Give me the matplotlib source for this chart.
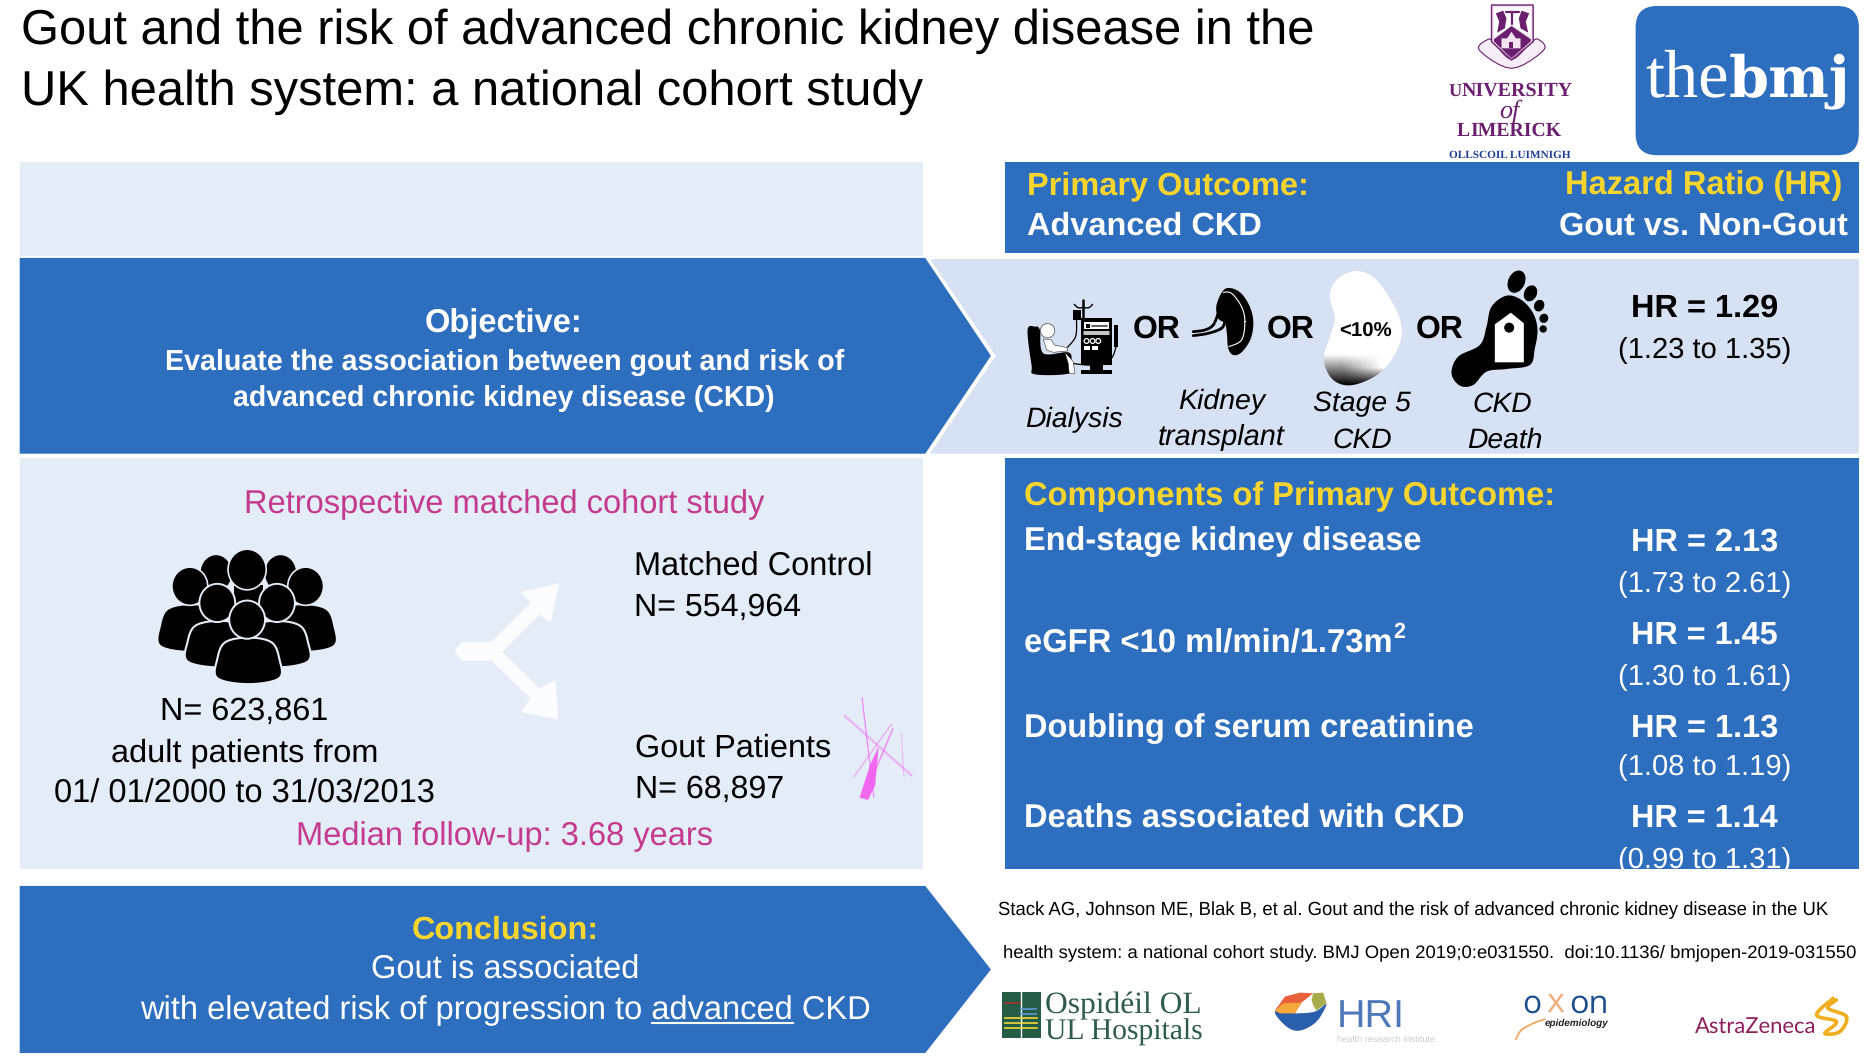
import numpy as np
import matplotlib
matplotlib.use("Agg")
import matplotlib.pyplot as plt
from matplotlib.patches import Polygon, Ellipse, PathPatch, FancyBboxPatch, Circle
from matplotlib.path import Path
from matplotlib.textpath import TextPath
from matplotlib.font_manager import FontProperties

plt.rcParams["text.hinting"] = "no_hinting"

# ---------------- content ----------------
title_lines = ["Gout and the risk of advanced chronic kidney disease in the",
               "UK health system: a national cohort study"]
hr_primary = (1.29, 1.23, 1.35)
components = ["End-stage kidney disease", "eGFR <10 ml/min/1.73m", "Doubling of serum creatinine",
              "Deaths associated with CKD"]
hr_values = [2.13, 1.45, 1.13, 1.14]
ci_low = [1.73, 1.30, 1.08, 0.99]
ci_high = [2.61, 1.61, 1.19, 1.31]
n_total = "623,861"
n_control = "554,964"
n_gout = "68,897"
median_followup = 3.68
citation = ["Stack AG, Johnson ME, Blak B, et al. Gout and the risk of advanced chronic kidney disease in the UK",
            "health system: a national cohort study. BMJ Open 2019;0:e031550.  doi:10.1136/ bmjopen-2019-031550"]

BLUE = "#2D6EBE"
LIGHT1 = "#E4ECF7"
LIGHT2 = "#D6E1F3"
YELLOW = "#F7D52E"
PINK = "#C43A8E"
SANS = "Liberation Sans"
SERIF = "Liberation Serif"

W, H = 1568, 885.3
K = 1.194
fig = plt.figure(figsize=(18.72, 10.57), dpi=100, facecolor="white")
ax = fig.add_axes([0, 0, 1, 1])
ax.axis("off")
renderer = fig.canvas.get_renderer()


def fit(s, x0, x1, yc=None, color="black", family=SANS, weight="normal", style="normal", zorder=5, base=None):
    fp = FontProperties(family=family, weight=weight, style=style)
    bb = TextPath((0, 0), s, size=10, prop=fp).get_extents()
    size = (x1 - x0) * K * 0.72 / (bb.width / 10)
    if base is None:
        base = yc + 0.36 * size / (K * 0.72)
    t = ax.text(x0, base, s, fontproperties=fp, fontsize=size, color=color,
                va="baseline", ha="left", zorder=zorder, clip_on=False)
    # correct for the width the renderer actually gives
    w = t.get_window_extent(renderer).width
    if w > 0:
        t.set_fontsize(size * (x1 - x0) * K / w)
    return t


def poly(pts, color, z=2, **kw):
    ax.add_patch(Polygon(pts, closed=True, facecolor=color, edgecolor=kw.pop("ec", "none"), zorder=z, **kw))


def smooth(pts, n=14):
    p = np.array(pts, float)
    m = len(p)
    out = []
    for i in range(m):
        p0, p1, p2, p3 = p[(i - 1) % m], p[i], p[(i + 1) % m], p[(i + 2) % m]
        for t in np.linspace(0, 1, n, endpoint=False):
            out.append(0.5 * (2 * p1 + (p2 - p0) * t + (2 * p0 - 5 * p1 + 4 * p2 - p3) * t ** 2
                              + (3 * p1 - p0 - 3 * p2 + p3) * t ** 3))
    return np.array(out)


def crop(x0, y0):
    """Map sketch coordinates of an icon (drawn at 3x) onto the canvas."""
    def f(pts):
        p = np.atleast_2d(np.array(pts, float))
        return np.column_stack([(x0 + p[:, 0] / 3) / K, (y0 + p[:, 1] / 3) / K])
    return f


def curve(pts, color, lw, z=3, n=10):
    p = np.array(pts, float)
    out = []
    for i in range(len(p) - 1):
        p0 = p[max(i - 1, 0)]; p1 = p[i]; p2 = p[i + 1]; p3 = p[min(i + 2, len(p) - 1)]
        for t in np.linspace(0, 1, n):
            out.append(0.5 * (2 * p1 + (p2 - p0) * t + (2 * p0 - 5 * p1 + 4 * p2 - p3) * t ** 2
                              + (3 * p1 - p0 - 3 * p2 + p3) * t ** 3))
    out = np.array(out)
    ax.plot(out[:, 0], out[:, 1], color=color, lw=lw, zorder=z, solid_capstyle="round", solid_joinstyle="round")


def ell(x, y, rx, ry, color="black", z=3, ec="none", lw=0, angle=0):
    ax.add_patch(Ellipse((x, y), 2 * rx, 2 * ry, angle=angle, facecolor=color, edgecolor=ec, lw=lw, zorder=z))


ax.set_xlim(0, W)
ax.set_ylim(H, 0)

# ---------------- panels ----------------
poly([(16.5, 136), (773, 136), (773, 214), (16.5, 214)], LIGHT1, 1)
poly([(842, 136), (1557, 136), (1557, 212), (842, 212)], BLUE, 1)
poly([(16.5, 216), (775, 216), (830, 298), (775, 380), (16.5, 380)], BLUE, 1)
poly([(779, 217), (1557, 217), (1557, 380), (779, 380), (834, 298)], LIGHT2, 1)
poly([(16.5, 384), (773, 384), (773, 728), (16.5, 728)], LIGHT1, 1)
poly([(842, 384), (1557, 384), (1557, 728), (842, 728)], BLUE, 1)
poly([(16.5, 742), (775, 742), (830, 812), (775, 882), (16.5, 882)], BLUE, 1)

# ---------------- title ----------------
fit(title_lines[0], 18, 1102, 22)
fit(title_lines[1], 18, 774, 73)

# ---------------- header ----------------
fit("Primary Outcome:", 860, 1096, 153, YELLOW, weight="bold")
fit("Advanced CKD", 860, 1056, 187, "white", weight="bold")
fit("Hazard Ratio (HR)", 1311, 1543, 153, YELLOW, weight="bold")
fit("Gout vs. Non-Gout", 1306, 1548, 187, "white", weight="bold")

# ---------------- objective ----------------
fit("Objective:", 356, 488, 268, "white", weight="bold")
fit("Evaluate the association between gout and risk of", 138, 707, 301, "white", weight="bold")
fit("advanced chronic kidney disease (CKD)", 195, 650, 331, "white", weight="bold")

# ---------------- primary outcome row ----------------
for x0 in (949, 1061, 1186):
    fit("OR", x0, x0 + 40, 273, weight="bold")
for s, a, b, y in [("Dialysis", 859, 941, 349), ("Kidney", 987, 1060, 334), ("transplant", 970, 1076, 364),
                   ("Stage 5", 1100, 1182, 336), ("CKD", 1116, 1166, 366), ("CKD", 1233, 1283, 336),
                   ("Death", 1229, 1292, 366)]:
    fit(s, a, b, y, style="italic")
fit(f"HR = {hr_primary[0]:.2f}", 1366, 1489, 255, weight="bold")
fit(f"({hr_primary[1]:.2f} to {hr_primary[2]:.2f})", 1355, 1500, 291)

# dialysis icon
c = crop(1015, 265)
poly(smooth(c([(38, 195), (60, 185), (75, 195), (85, 265), (160, 262), (170, 290), (165, 325), (60, 328), (50, 300)]), 8), "black")
ell(*c([(98, 197)])[0], 6.5 / K * 1.1, 6.5 / K * 1.1, "white", 5, "#444444", 0.5)
poly(c([(85, 222), (110, 225), (118, 240), (158, 248), (158, 258), (115, 262), (95, 255)]), "white", 4, ec="#333333", lw=0.4)
poly(c([(150, 262), (175, 290), (180, 325), (163, 325), (160, 295)]), "white", 4, ec="#333333", lw=0.4)
poly(c([(198, 160), (290, 160), (290, 300), (198, 300)]), "black")
poly(c([(208, 172), (282, 172), (282, 192), (208, 192)]), "white", 4)
poly(c([(212, 176), (224, 176), (224, 188), (212, 188)]), "black", 5)
curve(c([(232, 182), (275, 182)]), "#444444", 1.2, 5)
for yy in (200, 208):
    curve(c([(207, yy), (282, yy)]), "white", 1.1, 4)
for xx in (215, 233, 250):
    xy = c([(xx, 228)])[0]
    ax.add_patch(Circle(xy, 2, fc="none", ec="white", lw=0.9, zorder=4))
poly(c([(207, 243), (226, 243), (226, 256), (207, 256)]), "white", 4)
poly(c([(232, 243), (249, 243), (249, 256), (232, 256)]), "white", 4)
poly(c([(225, 300), (265, 300), (265, 316), (225, 316)]), "black")
poly(c([(197, 316), (290, 316), (290, 328), (197, 328)]), "black")
curve(c([(205, 105), (205, 160)]), "black", 1.8)
curve(c([(178, 118), (190, 128), (205, 128), (222, 128), (233, 118)]), "black", 1)
poly(c([(175, 135), (198, 135), (198, 165), (175, 165)]), "black")
curve(c([(185, 165), (182, 215), (155, 250)]), "black", 0.9)
poly(c([(297, 180), (310, 180), (310, 245), (297, 245)]), "black")
curve(c([(304, 245), (285, 285), (230, 300), (170, 295)]), "black", 0.9)

# kidney icon
poly(smooth(c([(630, 72), (670, 78), (700, 115), (715, 165), (708, 220), (680, 262), (655, 270), (640, 250),
               (636, 205), (630, 175), (610, 160), (605, 120)])), "black")
curve(c([(625, 82), (650, 85), (680, 125), (690, 170), (680, 225), (642, 245)]), "white", 0.8, 4)
curve(c([(610, 145), (595, 180), (570, 195), (535, 200)]), "black", 2.0)
curve(c([(535, 212), (580, 205), (620, 190), (630, 170)]), "black", 2.0)

# stage 5 kidney with gradient
c = crop(1310, 265)
blob = smooth(c([(140, 18), (195, 40), (240, 100), (272, 170), (268, 240), (215, 320), (130, 360), (70, 345),
                 (42, 285), (60, 215), (75, 160), (60, 90), (85, 40)]))
ys = c([(0, z) for z in np.linspace(0, 370, 120)])[:, 1]
ya = c([(0, 270)])[0, 1]; yb = c([(0, 310)])[0, 1]; yend = c([(0, 355)])[0, 1]
grad = np.column_stack([np.clip(1 - (ys - ya) / (yend - ya + 2), 0, 1), np.clip(1 - (ys - yb) / (yend - yb + 2), 0, 1)])
tl = c([(40, 0)])[0]; br = c([(275, 370)])[0]
im = ax.imshow(grad, cmap="gray", vmin=0, vmax=1, extent=(tl[0], br[0], br[1], tl[1]), aspect="auto", zorder=3,
               interpolation="bilinear")
im.set_clip_path(PathPatch(Path(np.vstack([blob, blob[0]])), transform=ax.transData))
fit("<10%", 1122, 1166, 276, weight="bold")

# foot icon
poly(smooth(c([(590, 92), (635, 105), (670, 145), (683, 195), (675, 250), (660, 300), (590, 312), (530, 320), (490, 360),
               (450, 362), (425, 325), (445, 275), (510, 240), (530, 185), (545, 125)])), "black")
for z, rx, ry, a in [((620, 50), 25, 35, 25), ((662, 85), 19, 25, 25), ((688, 122), 15, 18, 25),
                     ((702, 160), 13, 14, 30), ((700, 192), 11, 11, 0)]:
    xy = c([z])[0]
    ell(xy[0], xy[1], rx / 3 / K, ry / 3 / K, angle=a)
poly(c([(603, 143), (642, 175), (642, 292), (555, 292), (555, 178)]), "white", 4)
xy = c([(598, 188)])[0]
ell(xy[0], xy[1], 15 / 3 / K, 15 / 3 / K, "black", 5)

# ---------------- cohort panel ----------------
fit("Retrospective matched cohort study", 204, 640, 420, PINK)
fit("Matched Control", 531, 731, 472)
fit(f"N= {n_control}", 531, 671, 506)
fit(f"N= {n_total}", 134, 275, 593)
fit("adult patients from", 93, 317, 628)
fit("01/ 01/2000 to 31/03/2013", 45, 364, 662)
fit("Gout Patients", 532, 696, 624)
fit(f"N= {n_gout}", 532, 657, 658)
fit(f"Median follow-up: {median_followup:.2f} years", 248, 597, 698, PINK)


def bust(cx, top, hw, bottom, z):
    pts = smooth([(cx, top), (cx + hw * 0.75, top + 4), (cx + hw, top + 18), (cx + hw, bottom - 3),
                  (cx, bottom + 2), (cx - hw, bottom - 3), (cx - hw, top + 18), (cx - hw * 0.75, top + 4)], 8)
    ax.add_patch(Polygon(pts, closed=True, fc="black", ec=LIGHT1, lw=1.5, zorder=z))


ell(181, 480, 13, 15, "black", 3)
ell(235, 480, 13, 15, "black", 3)
poly([(196, 490), (220, 490), (220, 510), (196, 510)], "black", 3)
ell(207, 477, 16, 17, "black", 3.5, LIGHT1, 1.2)
bust(160, 506, 26, 544, 4); bust(254, 506, 26, 544, 4)
ell(159, 491, 15, 16, "black", 4.2, LIGHT1, 1.2); ell(256, 491, 15, 16, "black", 4.2, LIGHT1, 1.2)
bust(184, 520, 27, 557, 5); bust(231, 520, 27, 557, 5)
ell(182, 505, 15, 16, "black", 5.5, LIGHT1, 1.4); ell(232, 505, 15, 16, "black", 5.5, LIGHT1, 1.4)
bust(208, 534, 26, 571, 6)
ell(207, 519, 15, 16, "black", 6.5, LIGHT1, 1.4)

ax.add_patch(Polygon([(387, 538), (412, 538), (445, 505), (437, 496), (468, 489), (461, 521), (452, 514), (420, 546),
                      (452, 577), (465, 570), (467, 602), (437, 596), (445, 585), (412, 553), (387, 553), (381, 545)],
                     closed=True, fc="#FBFCFE", ec="#FBFCFE", lw=0.8, joinstyle="round", zorder=3))

for (a, b, lw, al) in [((722, 584), (732, 668), 0.9, 0.7), ((707, 599), (764, 650), 1.6, 0.4),
                       ((747, 606), (715, 651), 1.0, 0.45), ((755, 614), (757, 650), 1.0, 0.3),
                       ((748, 610), (727, 660), 1.2, 0.6)]:
    ax.plot([a[0], b[0]], [a[1], b[1]], color="#F25CF0", lw=lw, alpha=al, zorder=3, solid_capstyle="butt")
poly([(736, 625), (733, 658), (727, 670), (720, 668), (729, 640)], "#F25CF0", 3, alpha=0.9)

# ---------------- components panel ----------------
fit("Components of Primary Outcome:", 858, 1303, 413, YELLOW, weight="bold")
comp_spans = [(1191, 451, 451, 487), (1167, 536, 529, 565), (1235, 607, 607, 640), (1226, 683, 683, 718)]
for name, hr, lo, hi, (xe, yn, yh, yc) in zip(components, hr_values, ci_low, ci_high, comp_spans):
    fit(name, 858, xe, yn, "white", weight="bold")
    fit(f"HR = {hr:.2f}", 1366, 1489, yh, "white", weight="bold")
    fit(f"({lo:.2f} to {hi:.2f})", 1355, 1500, yc, "white")
fit("2", 1167, 1177, 527, "white", weight="bold")

# ---------------- conclusion ----------------
fit("Conclusion:", 345, 502, 776, YELLOW, weight="bold")
fit("Gout is associated", 311, 536, 810, "white")
fit("with elevated risk of progression to advanced CKD", 117, 729, 844, "white")
ax.plot([546, 664], [857, 857], color="white", lw=1.5, zorder=5)

# ---------------- citation ----------------
fit(citation[0], 836, 1532, 761)
fit(citation[1], 840, 1556, 796)

# ---------------- logos ----------------
# University of Limerick
PURPLE = "#6B1F6E"
c = crop(1470, 0)
ax.add_patch(Polygon(smooth(c([(28, 150), (55, 118), (72, 128), (125, 178), (183, 128), (205, 118), (222, 150), (125, 205)]), 6),
                     closed=True, fc="#F6ECF5", ec=PURPLE, lw=0.8, zorder=2.5))
poly(c([(65, 15), (190, 15), (190, 125), (125, 180), (65, 125)]), "#F4E3F0", 2.6, ec=PURPLE, lw=1)
poly(c([(72, 22), (183, 22), (183, 112), (128, 78), (72, 112)]), "white", 2.7)
poly(c([(72, 118), (125, 78), (183, 118), (183, 124), (125, 175), (72, 124)]), PURPLE, 3)
poly(c([(95, 145), (95, 115), (112, 115), (125, 95), (138, 115), (152, 115), (152, 145)]), "#F4E3F0", 3.2)
poly(c([(116, 145), (116, 125), (130, 125), (130, 145)]), PURPLE, 3.3)
poly(c([(78, 40), (100, 32), (110, 55), (105, 85), (82, 98), (88, 65)]), PURPLE, 3)
poly(c([(178, 40), (155, 32), (147, 55), (152, 85), (175, 98), (168, 65)]), PURPLE, 3)
curve(c([(107, 35), (148, 35)]), PURPLE, 1.6, 3.2)
curve(c([(127, 35), (127, 72)]), PURPLE, 1.6, 3.2)

fit("U", 1213, 1224, color=PURPLE, family=SERIF, weight="bold", base=80.5)
fit("NIVERSITY", 1224.5, 1318, color=PURPLE, family=SERIF, weight="bold", base=80.5)
fit("of", 1256, 1273, 91, PURPLE, SERIF, style="italic")
fit("L", 1220, 1231, color=PURPLE, family=SERIF, weight="bold", base=114)
fit("IMERICK", 1231.5, 1308, color=PURPLE, family=SERIF, weight="bold", base=114)
fit("OLLSCOIL LUIMNIGH", 1214, 1317, 129, "#1F3F93", SERIF, "bold")

# BMJ
ax.add_patch(FancyBboxPatch((1388, 23), 151, 89, boxstyle="round,pad=18,rounding_size=18", fc=BLUE, ec="none", zorder=1))
fit("the", 1378, 1448, color="white", family=SERIF, base=81)
fit("bmj", 1448, 1550, color="white", family="DejaVu Serif", weight="bold", base=81)

# Ospideil
poly([(839, 831), (872, 831), (872, 869), (839, 869)], "#245C46", 2)
ax.plot([855, 855], [831, 869], color="white", lw=1, zorder=3)
ax.plot([842, 854], [840, 840], color="#A83232", lw=1.2, zorder=3)
for yy in (845, 849):
    ax.plot([855, 868], [yy, yy], color="#5B9BD5", lw=1.2, zorder=3)
for yy in (853, 857, 861):
    ax.plot([842, 869], [yy, yy], color="#F2D93A", lw=1.2, zorder=3)
fit("Ospidéil OL", 875, 1006, 839, "#2E5B4E", SERIF)
fit("UL Hospitals", 875, 1007, 862, "#2E5B4E", SERIF)

# HRI
c = crop(1260, 980)
poly(smooth(c([(45, 95), (105, 100), (165, 95), (200, 72), (170, 125), (120, 152), (80, 140)]), 6), "#2A5FAE", 2)
poly(c([(45, 92), (75, 50), (120, 38), (160, 40), (125, 68), (105, 100), (60, 100)]), "#E8603A", 3)
poly(c([(45, 92), (70, 70), (125, 68), (105, 100), (60, 100)]), "#F3A93C", 3.1)
poly(c([(160, 40), (190, 38), (200, 70), (165, 95), (155, 60)]), "#A9AC4A", 3)
poly(c([(108, 100), (145, 55), (170, 92)]), "white", 4)
fit("HRI", 1120, 1177, color="#4F78B8", base=860)
fit("health research institute", 1120, 1202, 870, "#C5CBD3")

# oxon
fit("o", 1275, 1291, color="#1E4E8E", family="Open Sans", base=848)
fit("x", 1295, 1310, color="#F0B080", family="Open Sans", base=848)
fit("on", 1314, 1347, color="#1E4E8E", family="Open Sans", base=848)
fit("epidemiology", 1294, 1347, 856, "#222222", style="italic", weight="bold")
c = crop(1500, 980)
curve(c([(48, 178), (65, 150), (105, 128), (135, 118)]), "#EFA862", 1.3)

# AstraZeneca
fit("AstraZeneca", 1420, 1522, 858, "#8E1D5A", family="Lato")
c = crop(1500, 980)
curve(c([(1000, 55), (950, 105), (1010, 125), (975, 160), (1020, 155), (1040, 110), (985, 85), (1010, 60)]), "#F0AE1E", 2.6)

fig.savefig("out.png", dpi=100, facecolor="white")
